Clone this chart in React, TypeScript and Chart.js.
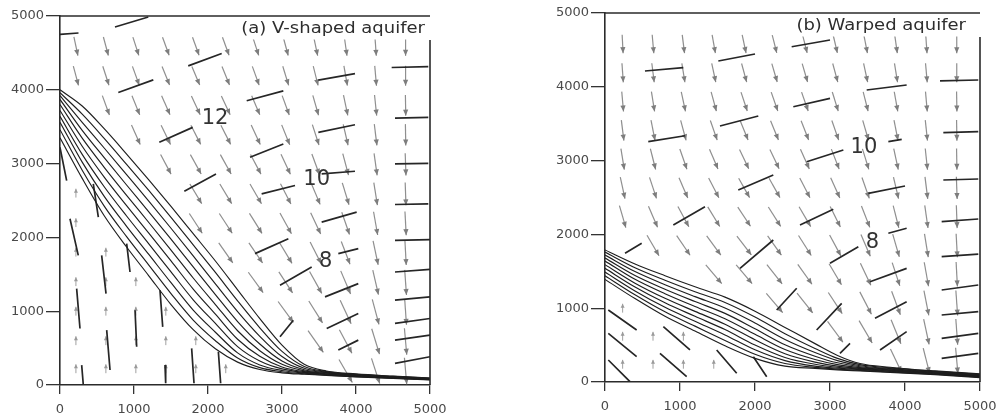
import React, { useEffect, useRef } from 'react';
import { Chart, registerables } from 'chart.js';
Chart.register(...registerables);

// ---------- shared axis ticks ----------
const AXIS_TICKS = [0, 1000, 2000, 3000, 4000, 5000];

// ---------- panel (a): V-shaped aquifer ----------
const TITLE_A = '(a) V-shaped aquifer';
const BAND_X_A = [0, 300, 600, 900, 1200, 1500, 1800, 2100, 2400, 2700, 3000, 3300, 3600, 4000, 4500, 5000];
const BAND_A = [
  [4000, 3780, 3470, 3130, 2780, 2420, 2050, 1680, 1290, 900, 540, 280, 190, 150, 120, 95],
  [3960, 3670, 3339, 2990, 2636, 2272, 1900, 1525, 1140, 775, 455, 250, 182, 145, 116, 92],
  [3920, 3560, 3208, 2850, 2491, 2124, 1750, 1370, 995, 660, 385, 226, 175, 140, 112, 89],
  [3870, 3450, 3077, 2710, 2347, 1977, 1600, 1225, 860, 555, 325, 207, 168, 135, 108, 86],
  [3800, 3345, 2946, 2570, 2202, 1829, 1450, 1090, 735, 465, 280, 192, 160, 130, 104, 83],
  [3720, 3235, 2814, 2430, 2058, 1681, 1300, 960, 620, 390, 245, 181, 153, 126, 101, 80],
  [3640, 3125, 2683, 2290, 1913, 1533, 1155, 835, 520, 325, 218, 171, 147, 122, 98, 78],
  [3560, 3020, 2552, 2150, 1769, 1386, 1015, 715, 435, 272, 197, 161, 141, 118, 95, 76],
  [3460, 2910, 2421, 2010, 1624, 1238, 880, 600, 365, 235, 180, 152, 135, 114, 92, 73],
  [3350, 2800, 2290, 1870, 1480, 1090, 750, 490, 310, 210, 165, 145, 130, 110, 90, 70],
];
// head contour segments [x1, y1, x2, y2]
const SEGS_A = [
  [743, 4851, 1193, 4986], [0, 4750, 250, 4770], [1733, 4324, 2185, 4491], [788, 3964, 1261, 4135],
  [1342, 3288, 1793, 3491], [1680, 2626, 2108, 2860], [4482, 4302, 4977, 4315], [3491, 4130, 3986, 4220],
  [2523, 3851, 3018, 3986], [4527, 3617, 4977, 3626], [3491, 3423, 3986, 3527], [2568, 3085, 3018, 3266],
  [4527, 2995, 4977, 3004], [3536, 2860, 3986, 2896], [2725, 2590, 3176, 2703], [4527, 2446, 4977, 2455],
  [3536, 2207, 4009, 2342], [2635, 1780, 3086, 1982], [3761, 1780, 4031, 1847], [4527, 1959, 5000, 1969],
  [2973, 1351, 3401, 1599], [3581, 1194, 4031, 1374], [4527, 1531, 5000, 1568], [4527, 1149, 5000, 1194],
  [3604, 766, 4031, 969], [2973, 653, 3153, 878], [4527, 834, 5000, 901], [3761, 473, 4031, 608],
  [4527, 608, 5000, 676], [4527, 293, 5000, 383],
  [0, 3220, 90, 2770], [135, 2253, 247, 1757], [225, 1306, 270, 766], [293, 270, 315, 0],
  [563, 1757, 622, 1239], [631, 743, 676, 203], [901, 1915, 946, 1531], [1014, 1013, 1036, 518],
  [1351, 1284, 1388, 788], [1419, 270, 1428, 23], [1779, 496, 1811, 23], [2140, 450, 2171, 23],
  [450, 2725, 518, 2275],
];
const ARROW_COLS_A = [215, 620, 1025, 1430, 1835, 2240, 2645, 3050, 3455, 3860, 4265, 4670];
const ARROW_ROWS_A = [4590, 4190, 3790, 3390, 2990, 2590, 2190, 1790, 1390, 990, 590, 190];
const ARROW_LEN_A = [260, 270, 280, 290, 300, 310, 320, 330, 340, 350, 360, 360];
const _ = null;
const ARROW_ANG_A = [
  [12, 15, 18, 20, 20, 20, 18, 15, 12, 8, 4, 0],
  [15, 18, 20, 22, 23, 22, 20, 17, 14, 10, 5, 0],
  [_, 20, 22, 24, 25, 25, 23, 20, 16, 12, 6, 1],
  [_, _, 24, 26, 27, 27, 25, 22, 18, 13, 7, 1],
  [_, _, _, 28, 29, 29, 28, 25, 20, 15, 8, 2],
  [_, _, _, _, 31, 31, 30, 27, 23, 17, 9, 2],
  [_, _, _, _, 33, 33, 32, 29, 25, 19, 10, 3],
  [_, _, _, _, _, 35, 34, 31, 27, 21, 12, 3],
  [_, _, _, _, _, _, 36, 33, 29, 23, 13, 4],
  [_, _, _, _, _, _, _, 36, 32, 25, 15, 4],
  [_, _, _, _, _, _, _, _, 35, 28, 17, 5],
  [_, _, _, _, _, _, _, _, _, 30, 18, 5],
];
const LOW_X_A = [215, 215, 215, 215, 215, 215, 215, 620, 620, 620, 620, 620, 1025, 1025, 1025, 1025, 1430, 1430, 1430, 1835, 1835, 2240];
const LOW_Y_A = [2600, 2200, 1800, 1400, 1000, 600, 220, 1800, 1400, 1000, 600, 220, 1400, 1000, 600, 220, 1000, 600, 220, 600, 220, 220];
const LABEL_TEXT_A = ['12', '10', '8'];
const LABEL_X_A = [2095, 3469, 3590];
const LABEL_Y_A = [3615, 2784, 1676];

// ---------- panel (b): Warped aquifer ----------
const TITLE_B = '(b) Warped aquifer';
const BAND_X_B = [0, 400, 800, 1200, 1600, 2000, 2400, 2800, 3100, 3400, 3800, 4400, 5000];
const BAND_B = [
  [1790, 1600, 1440, 1290, 1150, 960, 740, 520, 360, 250, 200, 150, 110],
  [1760, 1548, 1379, 1223, 1077, 880, 655, 455, 320, 235, 191, 144, 104],
  [1720, 1496, 1318, 1157, 1003, 800, 577, 400, 290, 220, 182, 138, 98],
  [1680, 1443, 1257, 1090, 930, 722, 505, 350, 260, 207, 173, 132, 92],
  [1640, 1391, 1196, 1023, 857, 646, 440, 305, 235, 195, 165, 126, 86],
  [1590, 1339, 1134, 957, 783, 572, 383, 270, 215, 185, 157, 120, 80],
  [1540, 1287, 1073, 890, 710, 502, 333, 240, 200, 175, 150, 115, 75],
  [1490, 1234, 1012, 823, 637, 436, 290, 215, 188, 167, 143, 110, 70],
  [1440, 1182, 951, 757, 563, 375, 250, 198, 175, 158, 136, 105, 65],
  [1390, 1130, 890, 690, 490, 320, 215, 185, 165, 150, 130, 100, 60],
];
const SEGS_B = [
  [533, 4214, 1044, 4259], [1511, 4350, 2000, 4444], [577, 3256, 1067, 3337], [1533, 3469, 2044, 3604],
  [1777, 2602, 2244, 2805], [2489, 4543, 3000, 4634], [3489, 3957, 4022, 4024], [4467, 4079, 4977, 4092],
  [2511, 3730, 3000, 3844], [2689, 2985, 3178, 3144], [3778, 3256, 3956, 3288], [4511, 3378, 4977, 3392],
  [3511, 2557, 4000, 2656], [4511, 2737, 4977, 2751], [2600, 2127, 3044, 2340], [3778, 2015, 4022, 2083],
  [4489, 2172, 4977, 2209], [3000, 1608, 3378, 1833], [3533, 1359, 4022, 1540], [4489, 1698, 4977, 1734],
  [2289, 976, 2556, 1270], [2822, 705, 3156, 1066], [3600, 863, 4022, 1088], [4489, 1247, 4977, 1314],
  [4489, 908, 4977, 953], [3667, 434, 4022, 682], [4489, 592, 4977, 660], [4489, 321, 4977, 389],
  [1800, 1541, 2244, 1924], [911, 2127, 1333, 2375], [267, 1744, 489, 1879], [3133, 389, 3267, 524],
  [44, 976, 422, 705], [44, 660, 422, 343], [44, 298, 333, 4], [778, 749, 1133, 434],
  [733, 389, 1089, 72], [1489, 434, 1756, 118], [1978, 343, 2156, 72],
];
const ARROW_COLS_B = [235, 640, 1045, 1450, 1855, 2260, 2665, 3070, 3475, 3880, 4285, 4690];
const ARROW_ROWS_B = [4580, 4190, 3800, 3410, 3020, 2630, 2240, 1850, 1460, 1070, 680, 290];
const ARROW_LEN_B = [250, 260, 270, 280, 290, 300, 310, 320, 330, 340, 350, 350];
const ARROW_ANG_B = [
  [3, 5, 7, 10, 12, 14, 14, 13, 11, 8, 4, 0],
  [4, 7, 9, 12, 15, 16, 16, 15, 12, 9, 5, 0],
  [5, 9, 12, 15, 18, 19, 19, 17, 14, 10, 5, 1],
  [7, 11, 15, 19, 22, 22, 21, 19, 16, 11, 6, 1],
  [9, 14, 19, 23, 25, 25, 24, 21, 17, 12, 6, 1],
  [12, 18, 23, 27, 29, 29, 27, 24, 19, 13, 7, 2],
  [16, 23, 28, 31, 33, 32, 30, 26, 21, 14, 8, 2],
  [_, 30, 34, 36, 37, 35, 32, 28, 23, 16, 9, 3],
  [_, _, _, 40, 40, 38, 35, 30, 25, 18, 10, 3],
  [_, _, _, _, _, 40, 38, 33, 27, 20, 11, 4],
  [_, _, _, _, _, _, _, 36, 30, 22, 12, 4],
  [_, _, _, _, _, _, _, _, _, 25, 14, 5],
];
const LOW_X_B = [235, 235, 235, 640, 640, 1045, 1045, 1450];
const LOW_Y_B = [1000, 620, 240, 620, 240, 620, 240, 240];
const LABEL_TEXT_B = ['10', '8'];
const LABEL_X_B = [3453, 3567];
const LABEL_Y_B = [3178, 1890];

const LOW_ARROW_ANGLE = 180;
const LOW_ARROW_LEN = 120;

type Panel = {
  title: string;
  titlePad: number;
  titleBoxW: number;
  titleBoxH: number;
  bandX: number[];
  band: number[][];
  segs: number[][];
  cols: number[];
  rows: number[];
  lens: number[];
  angs: (number | null)[][];
  lowX: number[];
  lowY: number[];
  labelText: string[];
  labelX: number[];
  labelY: number[];
  canvasW: number;
  pad: { top: number; right: number; left: number; bottom: number };
  yAxisW: number;
  xAxisH: number;
};

function drawArrow(ctx: CanvasRenderingContext2D, x0: number, y0: number, x1: number, y1: number, hl: number, hw: number) {
  ctx.beginPath();
  ctx.moveTo(x0, y0);
  ctx.lineTo(x1, y1);
  ctx.stroke();
  const a = Math.atan2(y1 - y0, x1 - x0);
  const c = Math.cos(a), s = Math.sin(a);
  ctx.beginPath();
  ctx.moveTo(x1, y1);
  ctx.lineTo(x1 - hl * c + hw * s, y1 - hl * s - hw * c);
  ctx.lineTo(x1 - hl * c - hw * s, y1 - hl * s + hw * c);
  ctx.closePath();
  ctx.fill();
}

function makeChart(canvas: HTMLCanvasElement, p: Panel) {
  const datasets: any[] = p.band.map((curve) => ({
    data: p.bandX.map((x, i) => ({ x, y: curve[i] })),
    showLine: true,
    borderColor: '#1e1e1e',
    borderWidth: 1.15,
    pointRadius: 0,
    cubicInterpolationMode: 'monotone',
    fill: false,
  }));
  const segData: any[] = [];
  p.segs.forEach((s) => {
    segData.push({ x: s[0], y: s[1] }, { x: s[2], y: s[3] }, { x: s[2], y: null });
  });
  datasets.push({
    data: segData,
    showLine: true,
    spanGaps: false,
    borderColor: '#262626',
    borderWidth: 1.7,
    pointRadius: 0,
    tension: 0,
  });

  const overlay = {
    id: 'overlay',
    beforeDatasetsDraw(chart: any) {
      const ctx: CanvasRenderingContext2D = chart.ctx;
      const xs = chart.scales.x, ys = chart.scales.y;
      const ca = chart.chartArea;
      ctx.save();
      ctx.beginPath();
      ctx.rect(ca.left, ca.top, ca.right - ca.left, ca.bottom - ca.top);
      ctx.clip();
      ctx.strokeStyle = '#8f8f8f';
      ctx.fillStyle = '#7d7d7d';
      ctx.lineWidth = 1.2;
      const arrowAt = (cx: number, cy: number, angDeg: number, len: number, hl: number, hw: number) => {
        const t = (angDeg * Math.PI) / 180;
        const dx = Math.sin(t), dy = -Math.cos(t);
        const h = len / 2;
        drawArrow(
          ctx,
          xs.getPixelForValue(cx - h * dx), ys.getPixelForValue(cy - h * dy),
          xs.getPixelForValue(cx + h * dx), ys.getPixelForValue(cy + h * dy),
          hl, hw,
        );
      };
      p.rows.forEach((ry, ri) => {
        p.cols.forEach((cx, ci) => {
          const a = p.angs[ri][ci];
          if (a === null || a === undefined) return;
          arrowAt(cx, ry, a, p.lens[ri], 6, 2.6);
        });
      });
      ctx.strokeStyle = '#a0a0a0';
      ctx.fillStyle = '#9a9a9a';
      ctx.lineWidth = 1;
      p.lowX.forEach((x, i) => arrowAt(x, p.lowY[i], LOW_ARROW_ANGLE, LOW_ARROW_LEN, 4, 2));
      ctx.restore();
    },
    afterDraw(chart: any) {
      const ctx: CanvasRenderingContext2D = chart.ctx;
      const ca = chart.chartArea;
      const xs = chart.scales.x, ys = chart.scales.y;
      ctx.save();
      // frame top and right
      ctx.strokeStyle = '#2b2b2b';
      ctx.lineWidth = 1.6;
      ctx.beginPath();
      ctx.moveTo(ca.left, ca.top);
      ctx.lineTo(ca.right, ca.top);
      ctx.moveTo(ca.right, ca.top + p.titleBoxH);
      ctx.lineTo(ca.right, ca.bottom);
      ctx.stroke();
      // title box
      ctx.fillStyle = '#ffffff';
      ctx.fillRect(ca.right - p.titleBoxW, ca.top + 1.5, p.titleBoxW + 3, p.titleBoxH - 2);
      ctx.fillStyle = '#2e2e2e';
      ctx.font = '15px "DejaVu Sans"';
      ctx.textAlign = 'right';
      ctx.textBaseline = 'middle';
      ctx.translate(ca.right - p.titlePad, ca.top + p.titleBoxH / 2 + 1);
      ctx.scale(1.2, 1);
      ctx.fillText(p.title, 0, 0);
      ctx.restore();
      // contour labels
      ctx.save();
      ctx.fillStyle = '#333333';
      ctx.font = '21px "DejaVu Sans"';
      ctx.textAlign = 'center';
      ctx.textBaseline = 'middle';
      p.labelText.forEach((t, i) => {
        ctx.fillText(t, xs.getPixelForValue(p.labelX[i]), ys.getPixelForValue(p.labelY[i]));
      });
      ctx.restore();
    },
  };

  const tickFont = { family: 'DejaVu Sans', size: 13 };
  return new Chart(canvas, {
    type: 'scatter',
    data: { datasets },
    options: {
      animation: false,
      responsive: false,
      maintainAspectRatio: false,
      events: [],
      layout: { padding: p.pad },
      plugins: { legend: { display: false }, tooltip: { enabled: false }, title: { display: false } },
      scales: {
        x: {
          type: 'linear',
          min: 0,
          max: 5000,
          afterBuildTicks: (s: any) => { s.ticks = AXIS_TICKS.map((v) => ({ value: v })); },
          afterFit: (s: any) => { s.height = p.xAxisH; },
          ticks: { font: tickFont, color: '#4a4a4a', padding: 8, maxRotation: 0, autoSkip: false, callback: (v: any) => String(v) },
          grid: { drawOnChartArea: false, drawTicks: true, tickLength: 9, color: '#333', lineWidth: 1.3 },
          border: { display: true, color: '#2b2b2b', width: 1.6 },
        },
        y: {
          type: 'linear',
          min: 0,
          max: 5000,
          afterBuildTicks: (s: any) => { s.ticks = AXIS_TICKS.map((v) => ({ value: v })); },
          afterFit: (s: any) => { s.width = p.yAxisW; },
          ticks: { font: tickFont, color: '#4a4a4a', padding: 2, autoSkip: false, callback: (v: any) => String(v) },
          grid: { drawOnChartArea: false, drawTicks: true, tickLength: 14, color: '#333', lineWidth: 1.3 },
          border: { display: true, color: '#2b2b2b', width: 1.6 },
        },
      },
    } as any,
    plugins: [overlay],
  });
}

const PANEL_A: Panel = {
  title: TITLE_A, titlePad: 5, titleBoxW: 197, titleBoxH: 24,
  bandX: BAND_X_A, band: BAND_A, segs: SEGS_A,
  cols: ARROW_COLS_A, rows: ARROW_ROWS_A, lens: ARROW_LEN_A, angs: ARROW_ANG_A,
  lowX: LOW_X_A, lowY: LOW_Y_A,
  labelText: LABEL_TEXT_A, labelX: LABEL_X_A, labelY: LABEL_Y_A,
  canvasW: 460, pad: { top: 16, right: 30, left: 0, bottom: 0 }, yAxisW: 60, xAxisH: 34,
};
const PANEL_B: Panel = {
  title: TITLE_B, titlePad: 14, titleBoxW: 192, titleBoxH: 24,
  bandX: BAND_X_B, band: BAND_B, segs: SEGS_B,
  cols: ARROW_COLS_B, rows: ARROW_ROWS_B, lens: ARROW_LEN_B, angs: ARROW_ANG_B,
  lowX: LOW_X_B, lowY: LOW_Y_B,
  labelText: LABEL_TEXT_B, labelX: LABEL_X_B, labelY: LABEL_Y_B,
  canvasW: 480, pad: { top: 13, right: 37, left: 0, bottom: 0 }, yAxisW: 68, xAxisH: 37,
};

function PanelChart({ panel, left }: { panel: Panel; left: number }) {
  const ref = useRef<HTMLCanvasElement | null>(null);
  useEffect(() => {
    if (!ref.current) return;
    const c = makeChart(ref.current, panel);
    return () => c.destroy();
  }, [panel]);
  return (
    <div style={{ position: 'absolute', left, top: 0, width: panel.canvasW, height: 419 }}>
      <canvas ref={ref} width={panel.canvasW} height={419} style={{ display: 'block', width: panel.canvasW, height: 419 }} />
    </div>
  );
}

export default function App() {
  return (
    <div style={{ position: 'absolute', left: 0, top: 0, width: 997, height: 419, overflow: 'hidden', background: '#ffffff' }}>
      <PanelChart panel={PANEL_A} left={0} />
      <PanelChart panel={PANEL_B} left={537} />
    </div>
  );
}
